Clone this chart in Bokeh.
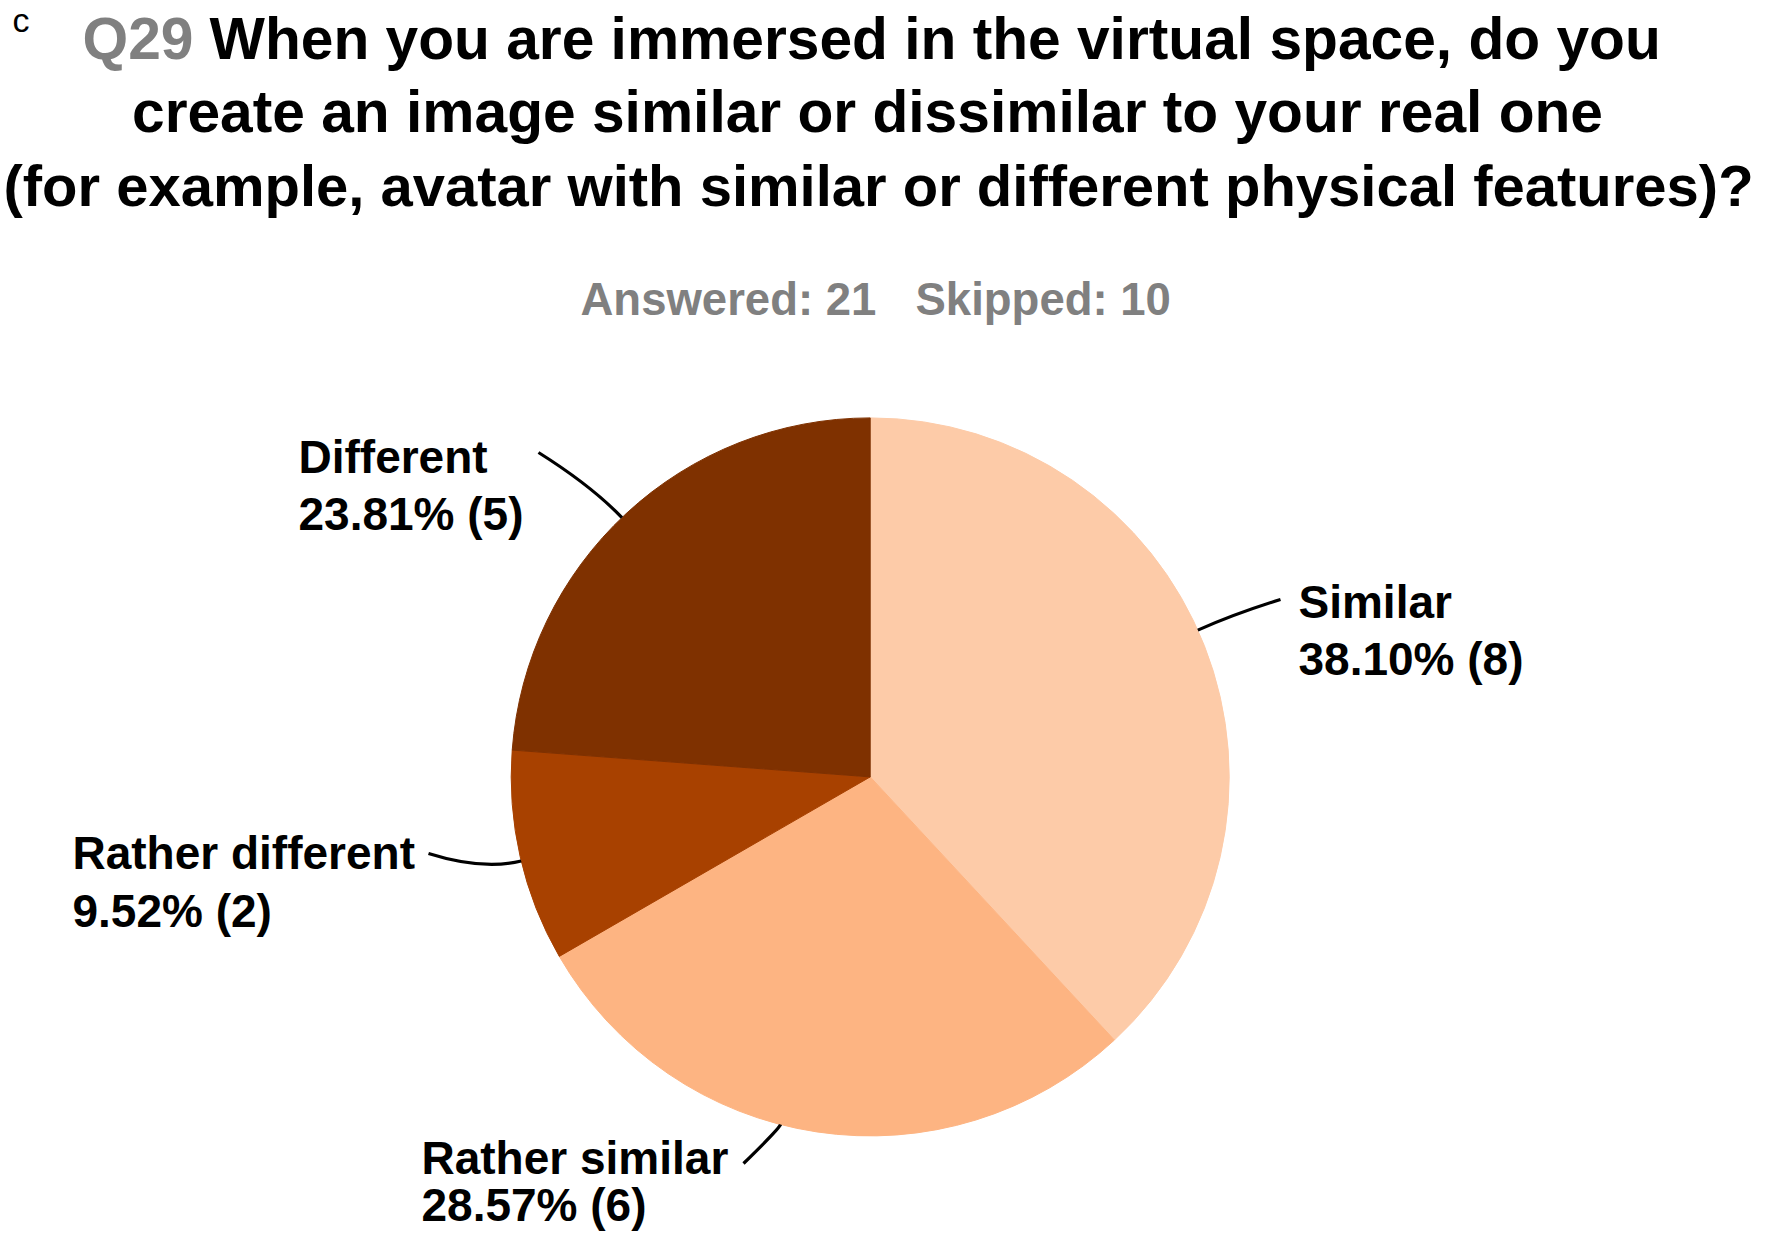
import numpy as np
from bokeh.plotting import figure
from bokeh.models import Range1d, ColumnDataSource
from bokeh.embed import file_html
from bokeh.resources import INLINE
from bokeh.core.properties import value

# ---------------- data ----------------
categories = ["Similar", "Rather similar", "Rather different", "Different"]
counts = [8, 6, 2, 5]
answered = 21
skipped = 10
question_id = "Q29"
title_lines = [
    "When you are immersed in the virtual space, do you",
    "create an image similar or dissimilar to your real one",
    "(for example, avatar with similar or different physical features)?",
]
panel_letter = "c"

# ---------------- style / layout ----------------
colors = ["#FDCBA8", "#FDB482", "#A84100", "#7F3100"]
FONT = value("Liberation Sans")
W, H = 1756, 1236
BASE_SHIFT = 0.38  # empirical offset of the rendered baseline (in em)


def X(px):  # page pixel -> data x
    return px


def Y(py):  # page pixel -> data y (y up)
    return H - py


def TB(py, fs):  # target page baseline -> data y for text glyphs
    return Y(py - BASE_SHIFT * fs)


cx, cy, R = X(869.7), Y(776.4), 359.0

LABEL_FS = 46
# label layout (page px): left x, baseline name, baseline pct
label_left = [1298, 421, 72, 298]
label_base1 = [619, 1175, 870, 474]
label_base2 = [676, 1222, 928, 531]
# leader lines: angle offset from slice mid (deg), end point (page px), radial control length
edge_offset = [2.7, -5.9, 0.7, 0.9]
leader_end = [(1280, 599), (743, 1163), (428, 853), (538, 452)]
ctrl_len = [40, 4, 40, 44]

p = figure(width=W, height=H, x_range=Range1d(0, W), y_range=Range1d(0, H),
           output_backend="svg", toolbar_location=None, min_border=0,
           x_axis_location=None, y_axis_location=None)
p.grid.visible = False
p.outline_line_color = None
p.background_fill_color = "white"
p.border_fill_color = "white"

# ---------------- pie ----------------
total = sum(counts)
cum = np.cumsum([0] + counts)
end_angles = np.pi / 2 - 2 * np.pi * cum[:-1] / total
start_angles = np.pi / 2 - 2 * np.pi * cum[1:] / total
mid_angles = (start_angles + end_angles) / 2

src = ColumnDataSource(dict(start=start_angles, end=end_angles, color=colors))
p.wedge(x=cx, y=cy, radius=R, start_angle="start", end_angle="end",
        fill_color="color", line_color="color", line_width=1, source=src)

# ---------------- leader lines ----------------
x0s, y0s, x1s, y1s, cxs, cys = [], [], [], [], [], []
for i in range(len(categories)):
    a = mid_angles[i] + np.deg2rad(edge_offset[i])
    sx, sy = cx + R * np.cos(a), cy + R * np.sin(a)
    ex, ey = X(leader_end[i][0]), Y(leader_end[i][1])
    qx, qy = sx + ctrl_len[i] * np.cos(a), sy + ctrl_len[i] * np.sin(a)
    x0s.append(sx); y0s.append(sy); x1s.append(ex); y1s.append(ey)
    cxs.append(qx); cys.append(qy)
p.quadratic(x0=x0s, y0=y0s, x1=x1s, y1=y1s, cx=cxs, cy=cys,
            line_color="black", line_width=3.2)

# ---------------- slice labels ----------------
pct_text = [f"{100 * c / total:.2f}% ({c})" for c in counts]
lx = [X(v) for v in label_left]
p.text(x=lx, y=[TB(v, LABEL_FS) for v in label_base1], text=categories,
       text_font=FONT, text_font_style="bold", text_font_size=f"{LABEL_FS}px",
       text_color="black", text_align="left", text_baseline="alphabetic")
p.text(x=lx, y=[TB(v, LABEL_FS) for v in label_base2], text=pct_text,
       text_font=FONT, text_font_style="bold", text_font_size=f"{LABEL_FS}px",
       text_color="black", text_align="left", text_baseline="alphabetic")

# ---------------- title ----------------
p.text(x=[X(12)], y=[TB(32, 34)], text=[panel_letter], text_font=FONT,
       text_font_size="34px", text_color="black", text_align="left",
       text_baseline="alphabetic")
p.text(x=[X(82)], y=[TB(60, 58.7)], text=[question_id], text_font=FONT,
       text_font_style="bold", text_font_size="58.7px", text_color="#808080",
       text_align="left", text_baseline="alphabetic")
p.text(x=[X(209)], y=[TB(60, 58.7)], text=[title_lines[0]], text_font=FONT,
       text_font_style="bold", text_font_size="58.7px", text_color="black",
       text_align="left", text_baseline="alphabetic")
p.text(x=[X(867)], y=[TB(133, 58.7)], text=[title_lines[1]],
       text_font=FONT, text_font_style="bold", text_font_size="58.7px",
       text_color="black", text_align="center", text_baseline="alphabetic")
p.text(x=[X(878)], y=[TB(207, 58)], text=[title_lines[2]],
       text_font=FONT, text_font_style="bold", text_font_size="58px",
       text_color="black", text_align="center", text_baseline="alphabetic")

# ---------------- answered / skipped ----------------
p.text(x=[X(580), X(915)], y=[TB(316, 45.5), TB(316, 45.5)],
       text=[f"Answered: {answered}", f"Skipped: {skipped}"],
       text_font=FONT, text_font_style="bold", text_font_size="45.5px",
       text_color="#808080", text_align="left", text_baseline="alphabetic")

open("out.html", "w").write(file_html(p, INLINE))
